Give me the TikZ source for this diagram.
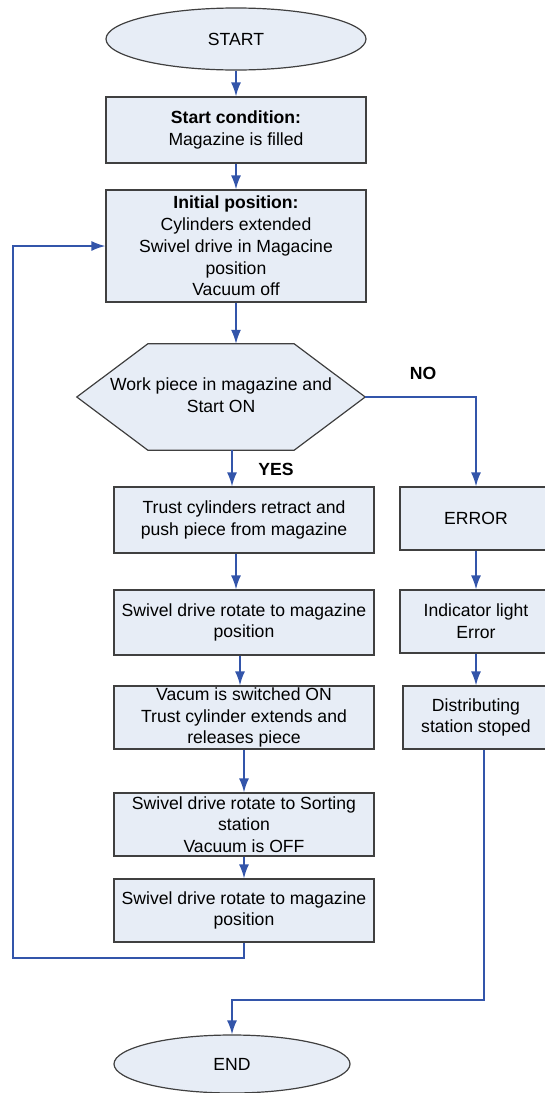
\documentclass[tikz,border=0pt]{standalone}
\usepackage{fontspec}
\setmainfont{Liberation Sans}
\usetikzlibrary{arrows.meta, shapes.geometric}

\definecolor{boxfill}{RGB}{231,237,246}
\definecolor{boxline}{RGB}{64,64,64}
\definecolor{flowblue}{RGB}{51,85,170}

\begin{document}
\begin{tikzpicture}[x=1pt, y=-1pt, >={Latex[length=14pt,width=10pt]},
  font=\fontsize{17.6}{21.8}\selectfont,
  stepbox/.style={draw=boxline, line width=1.2pt, fill=boxfill, align=center, minimum width=260, inner sep=0pt},
  termbox/.style={ellipse, draw=boxline, line width=1.2pt, fill=boxfill, inner sep=0pt},
  flow/.style={flowblue, line width=1.6pt},
  arr/.style={flow, ->}]

\useasboundingbox (0,0) rectangle (544,1093);

% terminals
\node[termbox, minimum width=260, minimum height=62] (start) at (236,39) {START};
\node[termbox, minimum width=236, minimum height=58] (end) at (232,1064) {END};

% main column
\node[stepbox, minimum height=66] (b1) at (236,130) {\textbf{Start condition:}\\Magazine is filled};
\node[stepbox, minimum height=112] (b2) at (236,246) {\textbf{Initial position:}\\Cylinders extended\\Swivel drive in Magacine\\position\\Vacuum off};

% decision
\node[minimum width=288, minimum height=106, inner sep=0pt] (dec) at (221,397) {};
\draw[draw=boxline, line width=1.2pt, fill=boxfill] (dec.west) -- ([xshift=71]dec.north west) -- ([xshift=-71]dec.north east) -- (dec.east) -- ([xshift=-71]dec.south east) -- ([xshift=71]dec.south west) -- cycle;
\node[align=center] (dectext) at ([yshift=2]dec.center) {Work piece in magazine and\\Start ON};

\node[stepbox, minimum height=66] (b3) at (244,520) {Trust cylinders retract and\\push piece from magazine};
\node[stepbox, minimum height=65] (b4) at (244,622.5) {Swivel drive rotate to magazine\\position};
\node[stepbox, minimum height=63] (b5) at (244,717.5) {Vacum is switched ON\\Trust cylinder extends and\\releases piece};
\node[stepbox, minimum height=63] (b6) at (244,824.5) {Swivel drive rotate to Sorting\\station\\Vacuum is OFF};
\node[stepbox, minimum height=63] (b7) at (244,910.5) {Swivel drive rotate to magazine\\position};

% error column
\node[stepbox, minimum width=152, minimum height=63] (err) at (476,518.5) {ERROR};
\node[stepbox, minimum width=152, minimum height=63] (ind) at (476,621.5) {Indicator light\\Error};
\node[stepbox, minimum width=146, minimum height=63] (stop) at (476,717.5) {Distributing\\station stoped};

% labels
\node[font=\fontsize{17.6}{21.8}\selectfont\bfseries] (lblno) at (423,373) {NO};
\node[font=\fontsize{17.6}{21.8}\selectfont\bfseries] (lblyes) at (276,469) {YES};

\coordinate (loop) at (13,958);
\coordinate (turn) at (232,1000);

% connectors
\draw[arr] (start) -- (b1);
\draw[arr] (b1) -- (b2);
\draw[arr] (b2.south) -- (b2.south |- dec.north);
\draw[arr] (dec.east) -| (err.north);
\draw[arr] ([xshift=11]dec.south) -- ([xshift=11]dec.south |- b3.north);
\draw[arr] ([xshift=-8]b3.south) -- ([xshift=-8]b3.south |- b4.north);
\draw[arr] ([xshift=-4]b4.south) -- ([xshift=-4]b4.south |- b5.north);
\draw[arr] (b5) -- (b6);
\draw[arr] (b6) -- (b7);
\draw[arr] (b7.south) |- (loop) |- (b2.west);
\draw[arr] (err) -- (ind);
\draw[arr] (ind) -- (stop);
\draw[arr] ([xshift=8]stop.south) |- (turn) -- (end.north);

\end{tikzpicture}
\end{document}
